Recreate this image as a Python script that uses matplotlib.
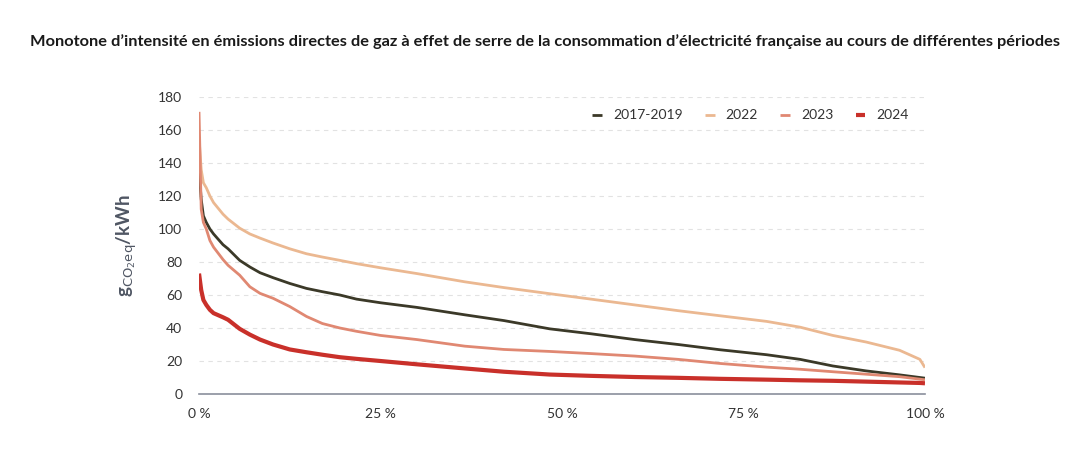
import numpy as np
import matplotlib
matplotlib.use("Agg")
from matplotlib import pyplot as plt

plt.rcParams['font.family'] = ['Lato', 'DejaVu Sans']

# share of hours (%) sorted by decreasing intensity
pct = [0, 0.3, 0.6, 1, 1.5, 2, 3.3, 4, 5.6, 7, 8.4, 10.2, 12.5, 14.8, 17, 19.4, 21.7, 25,
       30, 36.6, 42, 48.3, 54, 60, 66, 71.8, 78.2, 82.8, 87.3, 91.9, 96.5, 99.3, 100]

y_2017_2019 = [136, 118, 108, 104, 100, 97, 90.5, 88, 81, 77, 73.5, 70.5, 67, 64, 62, 60, 57.5, 55.3,
               52.5, 48, 44.5, 39.5, 36.5, 33, 30, 26.8, 23.8, 21, 17, 14, 11.6, 10, 9.6]
y_2022 = [155, 136, 128, 125, 120, 116, 109, 106, 100.5, 97, 94.5, 91.5, 88, 85, 83, 81, 79, 76.5,
          73, 68, 64.5, 60.8, 57.5, 54, 50.5, 47.4, 44, 40.5, 35.5, 31.5, 26.5, 21, 16]
y_2023 = [171, 112, 104, 100, 93, 89, 81.5, 78, 72, 65, 61, 58, 53, 47, 42.7, 40, 38, 35.5,
          33, 29, 27, 25.8, 24.5, 23, 21, 18.5, 16.3, 15, 13.5, 12, 10.5, 9, 8.6]
y_2024 = [73, 63, 57, 54, 51, 49, 46.5, 45, 39.5, 36, 33, 30, 27, 25.3, 23.8, 22.3, 21.3, 20,
          18, 15.5, 13.5, 11.8, 11, 10.3, 9.8, 9.2, 8.7, 8.3, 8, 7.5, 7, 6.7, 6.5]

labels = ['2017-2019', '2022', '2023', '2024']
colors = ['#3b3928', '#ebb891', '#e08872', '#c9302a']
widths = [2.0, 2.0, 2.0, 3.0]

fig = plt.figure(figsize=(10.9, 4.67), dpi=100)
ax = fig.add_axes([0.1826, 0.1563, 0.666, 0.636])

series = [y_2017_2019, y_2022, y_2023, y_2024]
for ys, lab, col, lw in zip(series, labels, colors, widths):
    ax.plot(pct, ys, color=col, lw=lw, label=lab, solid_capstyle='butt')

ax.set_xlim(0, 100)
ax.set_ylim(0, 180)
ax.set_yticks(np.arange(0, 181, 20))
ax.set_xticks([0, 25, 50, 75, 100])
ax.set_xticklabels(['0 %', '25 %', '50 %', '75 %', '100 %'])
ax.tick_params(length=0, labelsize=10, colors='#333333')
ax.tick_params(axis='x', pad=10)
ax.tick_params(axis='y', pad=12)
ax.grid(axis='y', color='#e2e2e2', ls=(0, (4, 4)), lw=0.8)
ax.set_axisbelow(True)
for s in ['top', 'right', 'left']:
    ax.spines[s].set_visible(False)
ax.spines['bottom'].set_color('#8a8f9c')
ax.spines['bottom'].set_linewidth(1.2)

ax.set_ylabel(r'g$_{\mathrm{CO_2eq}}$/kWh', fontsize=13.5, fontweight='bold',
              color='#4f5663', labelpad=14)

ax.legend(loc='upper right', ncol=4, frameon=False, fontsize=10,
          handlelength=0.7, columnspacing=1.6, handletextpad=0.8,
          bbox_to_anchor=(0.995, 1.0), labelcolor='#333333')

fig.text(0.5, 0.91, "Monotone d\u2019intensit\u00e9 en \u00e9missions directes de gaz \u00e0 effet de serre "
         "de la consommation d\u2019\u00e9lectricit\u00e9 fran\u00e7aise au cours de diff\u00e9rentes p\u00e9riodes",
         ha='center', va='center', fontsize=11.8, fontweight='bold', color='#1a1a1a')

fig.savefig('out.png', dpi=100)
